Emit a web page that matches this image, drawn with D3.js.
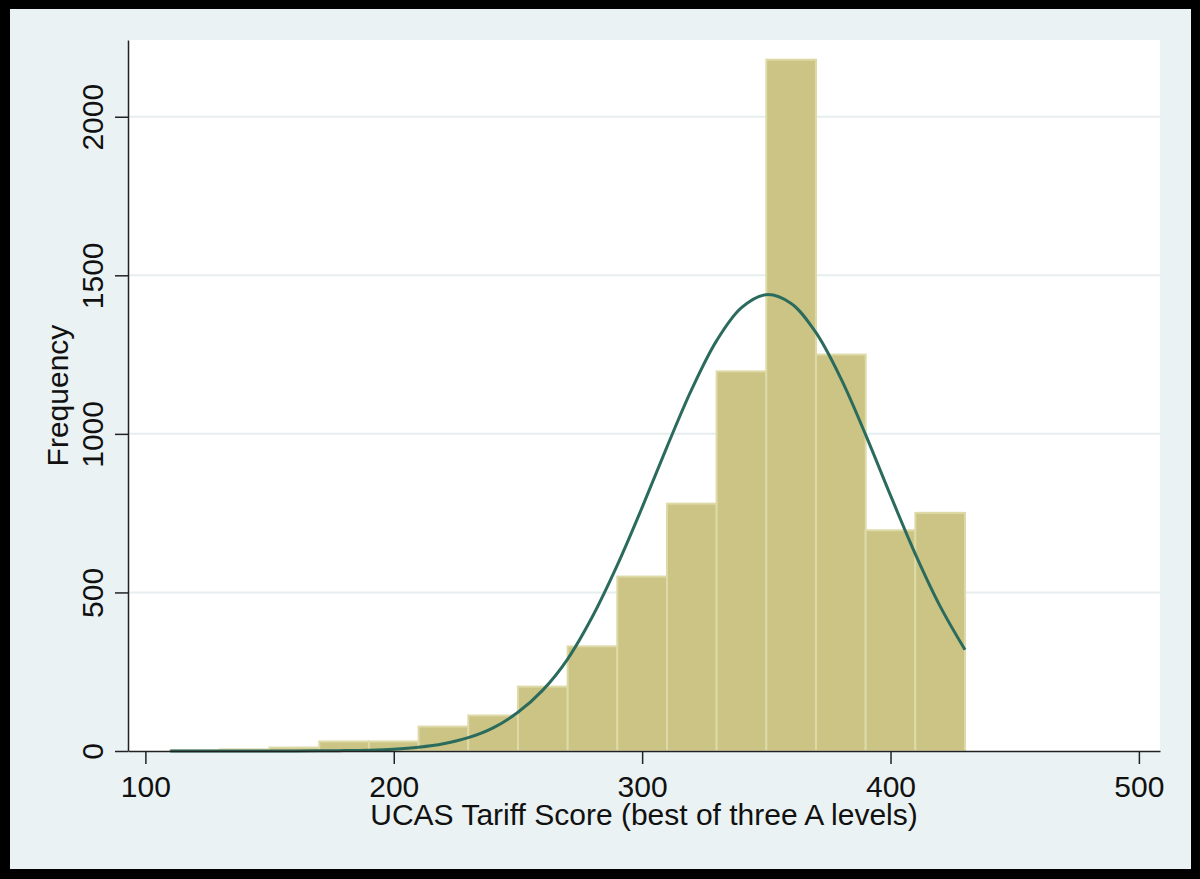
<!DOCTYPE html>
<html>
<head>
<meta charset="utf-8">
<script src="https://cdn.jsdelivr.net/npm/d3@7"></script>
<style>
  body { margin: 0; background: #000; }
  svg { display: block; }
  text { font-family: Arial, "Liberation Sans", sans-serif; }
</style>
</head>
<body>
<svg id="svg_1" width="1200" height="879"></svg>
<script>
// histogram bins (left edge, width 20) and counts
var binStart = [110, 130, 150, 170, 190, 210, 230, 250, 270, 290, 310, 330, 350, 370, 390, 410];
var binCount = [2, 5, 11, 30, 30, 77, 112, 203, 330, 550, 780, 1197, 2180, 1250, 696, 751];
var binWidth = 20;

// normal density overlay, every 10 points
var curveScore = [110, 120, 130, 140, 150, 160, 170, 180, 190, 200, 210, 220, 230, 240, 250, 260,
                  270, 280, 290, 300, 310, 320, 330, 340, 350, 360, 370, 380, 390, 400, 410, 420, 430];
var curveFreq = [0, 0, 0, 0, 0.1, 0.2, 0.5, 1.2, 2.7, 5.8, 12, 23, 42, 73, 122, 192,
                 290, 424, 586, 768, 959, 1141, 1294, 1398, 1439, 1411, 1319, 1175, 997, 806, 621, 456, 319];

var xTicks = [100, 200, 300, 400, 500];
var yTicks = [0, 500, 1000, 1500, 2000];

var svg = d3.select("svg#svg_1"),
    margin = {top: 40, right: 40, bottom: 128, left: 128},
    width = +svg.attr("width") - margin.left - margin.right,
    height = +svg.attr("height") - margin.top - margin.bottom;

// outer panel
svg.append("rect")
    .attr("x", 10).attr("y", 9)
    .attr("width", 1181).attr("height", 860)
    .attr("fill", "#eaf2f3");

var g = svg.append("g").attr("transform", "translate(" + margin.left + "," + margin.top + ")");

var x = d3.scaleLinear()
    .domain([93, 508.5])
    .range([0, width]);

var y = d3.scaleLinear()
    .domain([0, 2242])
    .range([height, 0]);

g.append("rect")
    .attr("width", width)
    .attr("height", height)
    .attr("fill", "#fff");

// grid lines
g.append("g")
  .selectAll("line")
  .data(yTicks.slice(1))
  .enter().append("line")
    .attr("x1", 0)
    .attr("x2", width)
    .attr("y1", function(d) { return y(d); })
    .attr("y2", function(d) { return y(d); })
    .attr("stroke", "#e6eef0")
    .attr("stroke-width", 2);

// bars
g.append("g")
  .selectAll("rect")
  .data(binStart)
  .enter().append("rect")
    .attr("x", function(d) { return x(d); })
    .attr("y", function(d, i) { return y(binCount[i]); })
    .attr("width", function(d) { return x(d + binWidth) - x(d); })
    .attr("height", function(d, i) { return y(0) - y(binCount[i]); })
    .attr("fill", "#cbc484")
    .attr("stroke", "#dedaa8")
    .attr("stroke-width", 2);

// normal curve
var line = d3.line()
    .x(function(d, i) { return x(curveScore[i]); })
    .y(function(d) { return y(d); })
    .curve(d3.curveCatmullRom);

g.append("path")
    .datum(curveFreq)
    .attr("fill", "none")
    .attr("stroke", "#2b6b5e")
    .attr("stroke-width", 3)
    .attr("d", line);

// axes
var xAxis = g.append("g")
    .attr("transform", "translate(0," + height + ")")
    .call(d3.axisBottom(x).tickValues(xTicks).tickFormat(d3.format("d")).tickSize(13).tickSizeOuter(0));

xAxis.select(".domain").attr("stroke", "#222").attr("stroke-width", 1.5);
xAxis.selectAll(".tick line").attr("stroke", "#222").attr("stroke-width", 1.5);
xAxis.selectAll(".tick text")
    .attr("y", 46)
    .attr("dy", 0)
    .attr("fill", "#111")
    .style("font-size", "30px");

var yAxis = g.append("g")
    .call(d3.axisLeft(y).tickValues(yTicks).tickFormat(d3.format("d")).tickSize(13).tickSizeOuter(0));

yAxis.select(".domain").attr("stroke", "#222").attr("stroke-width", 1.5);
yAxis.selectAll(".tick line").attr("stroke", "#222").attr("stroke-width", 1.5);
yAxis.selectAll(".tick text")
    .attr("transform", "rotate(-90)")
    .attr("x", 0)
    .attr("y", -25)
    .attr("dy", 0)
    .attr("fill", "#111")
    .style("text-anchor", "middle")
    .style("font-size", "30px");

// axis titles
svg.append("text")
    .attr("x", margin.left + width / 2)
    .attr("y", 825)
    .attr("fill", "#111")
    .style("font-size", "30px")
    .style("text-anchor", "middle")
    .text("UCAS Tariff Score (best of three A levels)");

svg.append("text")
    .attr("transform", "translate(68," + (margin.top + height / 2) + ") rotate(-90)")
    .attr("fill", "#111")
    .style("font-size", "30px")
    .style("text-anchor", "middle")
    .text("Frequency");
</script>
</body>
</html>
